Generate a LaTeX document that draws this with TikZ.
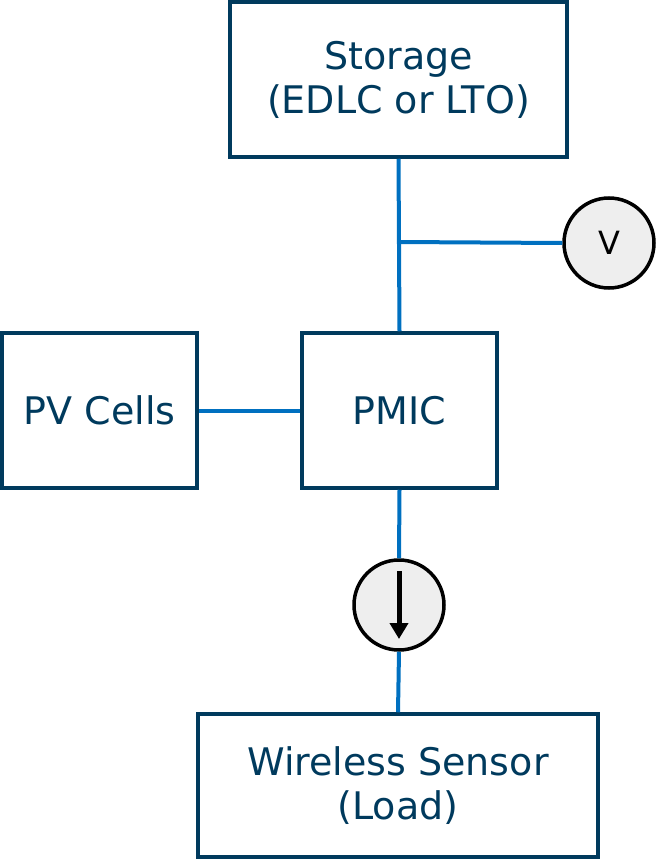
\documentclass[tikz,border=0pt]{standalone}
\usepackage{fontspec}
\setmainfont{DejaVu Sans}
\usetikzlibrary{arrows.meta}
\definecolor{navy}{HTML}{003A5D}
\definecolor{wire}{HTML}{0070C0}
\definecolor{fillg}{HTML}{EEEEEE}
\begin{document}
\begin{tikzpicture}[x=1pt,y=-1pt,
  box/.style={draw=navy,line width=3.5pt,text=navy,font=\fontsize{38}{44}\selectfont,align=center,inner sep=0pt},
  meter/.style={circle,draw=black,line width=3.5pt,fill=fillg,minimum size=90pt,inner sep=0pt,font=\fontsize{32}{38}\selectfont},
  wire/.style={draw=wire,line width=4pt}]
\useasboundingbox (0,0) rectangle (663,859);
\node[box,minimum width=337pt,minimum height=155pt] (st) at (398.5,79.5) {Storage\\(EDLC or LTO)};
\node[box,minimum width=195pt,minimum height=155pt] (pv) at (99.5,410.5) {PV Cells};
\node[box,minimum width=195pt,minimum height=155pt] (pm) at (399.5,410.5) {PMIC};
\node[box,minimum width=400pt,minimum height=143pt] (ws) at (398,785.5) {Wireless Sensor\\(Load)};
\node[meter] (v) at (609,243) {V};
\node[meter] (a) at (399,605) {};
\coordinate (j) at (399,242);
\coordinate (a1) at (399,571);
\coordinate (a2) at (399,639);
\draw[wire] (st.south) -- (pm.north);
\draw[wire] (j) -- (v.west);
\draw[wire] (pv.east) -- (pm.west);
\draw[wire] (pm.south) -- (a.north);
\draw[wire] (a.south) -- (ws.north);
\draw[line width=5pt,-{Triangle[length=16pt,width=18pt]}] (a1) -- (a2);
\end{tikzpicture}
\end{document}
